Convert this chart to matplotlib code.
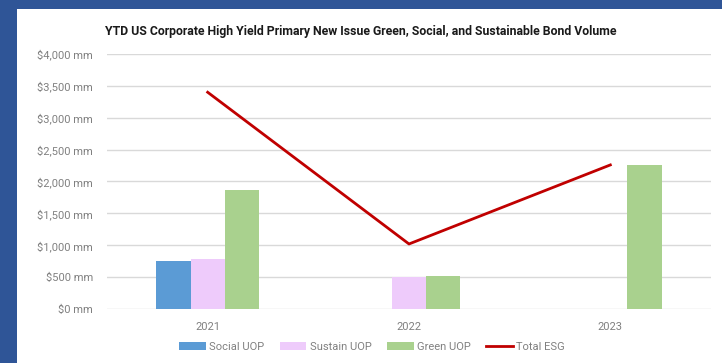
import matplotlib

matplotlib.use("Agg")

import matplotlib.pyplot as plt
import numpy as np
from matplotlib.patches import Rectangle

years = ["2021", "2022", "2023"]
social_uop = [750, 0, 0]
sustain_uop = [790, 500, 0]
green_uop = [1860, 520, 2260]
total_esg = [3400, 1020, 2260]
y_ticks = [0, 500, 1000, 1500, 2000, 2500, 3000, 3500, 4000]

plt.rcParams["font.family"] = ["Roboto", "DejaVu Sans"]

W, H = 722, 363
fig = plt.figure(figsize=(W / 100, H / 100), dpi=100, facecolor="white")

# blue frame at left and top
fig.patches.append(Rectangle((0, 0), 17 / W, 1, transform=fig.transFigure,
                             facecolor="#2F5597", edgecolor="none", zorder=0))
fig.patches.append(Rectangle((0, 1 - 9 / H), 1, 9 / H, transform=fig.transFigure,
                             facecolor="#2F5597", edgecolor="none", zorder=0))

ax = fig.add_axes([107 / W, 1 - 309 / H, (711 - 107) / W, (309 - 54) / H])
ax.set_facecolor("white")

x = np.arange(len(years))
bw = 0.17
b1 = ax.bar(x - bw, social_uop, bw, color="#5B9BD5", label="Social UOP", zorder=3)
b2 = ax.bar(x, sustain_uop, bw, color="#EECBFB", label="Sustain UOP", zorder=3)
b3 = ax.bar(x + bw, green_uop, bw, color="#A9D18E", label="Green UOP", zorder=3)
(ln,) = ax.plot(x, total_esg, color="#C00000", linewidth=2, label="Total ESG", zorder=4)

ax.set_xlim(-0.5, len(years) - 0.5)
ax.set_ylim(0, 4000)
ax.set_yticks(y_ticks)
ax.set_yticklabels([f"${v:,} mm" for v in y_ticks])
ax.set_xticks(x)
ax.set_xticklabels(years)
ax.tick_params(axis="both", length=0, labelsize=8, colors="#808080")
ax.tick_params(axis="y", pad=10)
ax.tick_params(axis="x", pad=9)
ax.grid(axis="y", color="#D9D9D9", linewidth=1, zorder=0)
for s in ax.spines.values():
    s.set_visible(False)

fig.text(361 / W, 1 - 31 / H,
         "YTD US Corporate High Yield Primary New Issue Green, Social, and Sustainable Bond Volume",
         ha="center", va="center", fontsize=8.8, fontweight="bold", color="#1a1a1a")

leg = fig.legend([b1, b2, b3, ln], ["Social UOP", "Sustain UOP", "Green UOP", "Total ESG"],
                 loc="center", bbox_to_anchor=(372 / W, 1 - 347 / H), ncol=4,
                 frameon=False, fontsize=8, handlelength=2.4, handleheight=0.7,
                 columnspacing=1.4, handletextpad=0.3)
for t in leg.get_texts():
    t.set_color("#808080")

fig.savefig("out.png", dpi=100, facecolor="white")
